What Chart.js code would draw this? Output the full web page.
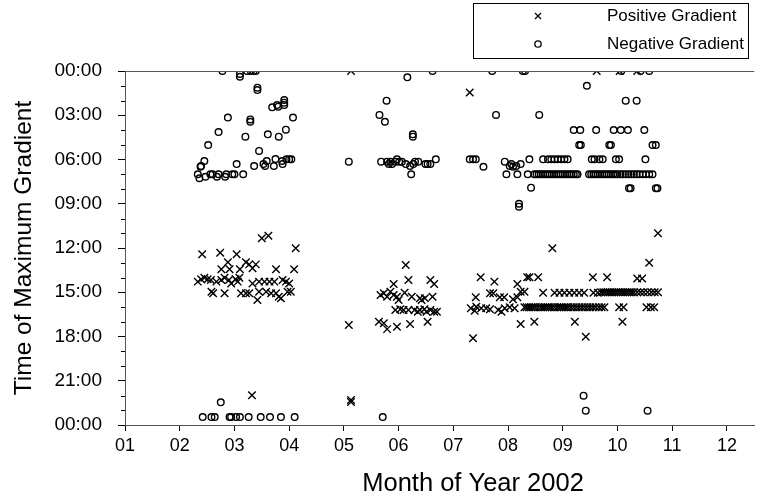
<!DOCTYPE html>
<html>
<head>
<meta charset="utf-8">
<script src="https://cdn.jsdelivr.net/npm/chart.js@4/dist/chart.umd.min.js"></script>
<style>
    html, body { margin: 0; padding: 0; background: #fff; }
    #wrap { width: 761px; height: 497px; }
</style>
</head>
<body>
<div id="wrap"><canvas id="chart-gradient" width="761" height="497"></canvas></div>
<script>
// label sumbu
const monthLabels = ["01", "02", "03", "04", "05", "06", "07", "08", "09", "10", "11", "12"];
const hourLabels = ["00:00", "03:00", "06:00", "09:00", "12:00", "15:00", "18:00", "21:00", "00:00"];

// [bulan, jam] - gradien positif (x)
const positivePoints = [
    [2.41, 12.43], [2.74, 12.32], [3.04, 12.43], [3.50, 11.34], [3.62, 11.17], [4.12, 12.02],
    [2.88, 12.97], [3.21, 12.97], [3.27, 13.11], [3.39, 13.11], [3.76, 13.44], [4.09, 13.44],
    [2.76, 13.44], [2.91, 13.44], [3.10, 13.44], [3.33, 13.38],
    [2.33, 14.28], [2.39, 14.12], [2.45, 14.01], [2.51, 14.12], [2.57, 14.17], [2.67, 14.28],
    [2.76, 14.17], [2.82, 14.01], [2.90, 14.17], [2.94, 14.40], [3.02, 14.12], [3.09, 14.01], [3.06, 14.28],
    [3.33, 14.40], [3.45, 14.28], [3.55, 14.28], [3.64, 14.28], [3.73, 14.28], [3.88, 14.17], [3.94, 14.28], [4.00, 14.40],
    [2.58, 14.96], [2.61, 15.07], [2.82, 15.07],
    [3.12, 15.07], [3.21, 15.07], [3.27, 15.07], [3.45, 14.96], [3.42, 15.53], [3.58, 14.96], [3.67, 15.07],
    [3.76, 15.07], [3.81, 15.30], [3.85, 15.41], [3.97, 14.96], [4.03, 14.96],
    [3.32, 21.99],
    [5.13, 0], [5.09, 17.22], [5.13, 22.31], [5.13, 22.44],
    [6.13, 13.15], [6.18, 14.17], [5.91, 14.44], [6.58, 14.17], [6.65, 14.44],
    [5.67, 15.19], [5.73, 15.07], [5.79, 15.30], [5.85, 14.96], [5.91, 15.19], [5.97, 15.30], [6.00, 15.53],
    [6.11, 15.03], [6.24, 15.30], [6.39, 15.41], [6.42, 15.53], [6.48, 15.41], [6.62, 15.30],
    [5.94, 16.20], [6.03, 16.16], [6.09, 16.20], [6.18, 16.20], [6.29, 16.20], [6.35, 16.32], [6.39, 16.20],
    [6.47, 16.16], [6.51, 16.32], [6.58, 16.20], [6.65, 16.32], [6.70, 16.32],
    [5.64, 17.00], [5.73, 17.10], [5.79, 17.50], [5.97, 17.34], [6.21, 17.15], [6.53, 17.00],
    [7.30, 1.45], [9.62, 0], [10.04, 0], [10.36, 0],
    [8.81, 12.02], [7.50, 13.99], [7.75, 14.28], [8.35, 13.99], [8.39, 13.99], [8.55, 13.99], [9.55, 13.99],
    [9.81, 13.99], [8.17, 14.44],
    [7.41, 15.34], [7.67, 15.07], [7.73, 15.07], [7.85, 15.34], [7.93, 15.34], [8.09, 15.48], [8.17, 15.34],
    [8.23, 14.96], [8.30, 14.96],
    [8.64, 15.03], [8.85, 15.03], [8.94, 15.03], [9.03, 15.03], [9.12, 15.03], [9.21, 15.03], [9.30, 15.03],
    [9.39, 15.03], [9.56, 15.03], [9.64, 15.03],
    [9.70, 15.0], [9.74, 15.0], [9.78, 15.0], [9.82, 15.0], [9.86, 15.0], [9.90, 15.0], [9.94, 15.0],
    [9.98, 15.0], [10.02, 15.0], [10.06, 15.0], [10.10, 15.0], [10.14, 15.0], [10.18, 15.0], [10.22, 15.0],
    [10.26, 15.0], [10.30, 15.0], [10.36, 15.0], [10.42, 15.0], [10.48, 15.0], [10.55, 15.0], [10.62, 15.0],
    [10.68, 15.0], [10.74, 15.0],
    [7.32, 16.09], [7.39, 16.25], [7.42, 15.98], [7.51, 16.09], [7.60, 16.09], [7.67, 16.16], [7.82, 16.20],
    [7.88, 16.32], [7.94, 16.09], [8.03, 16.02], [8.12, 16.09],
    [8.30, 16.02], [8.34, 16.02], [8.38, 16.02], [8.42, 16.02], [8.46, 16.02], [8.50, 16.02], [8.55, 16.02],
    [8.60, 16.02], [8.64, 16.02], [8.68, 16.02], [8.72, 16.02], [8.76, 16.02], [8.80, 16.02], [8.85, 16.02],
    [8.90, 16.02], [8.94, 16.02], [8.98, 16.02], [9.02, 16.02], [9.06, 16.02], [9.10, 16.02], [9.15, 16.02],
    [9.20, 16.02], [9.25, 16.02], [9.30, 16.02], [9.35, 16.02], [9.40, 16.02], [9.45, 16.02], [9.50, 16.02],
    [9.55, 16.02], [9.60, 16.02], [9.66, 16.02], [9.71, 16.02], [9.76, 16.02],
    [10.03, 16.02], [10.11, 16.02], [10.53, 16.02], [10.61, 16.02], [10.67, 16.02],
    [8.23, 17.15], [8.48, 17.00], [9.22, 17.00], [10.09, 17.00], [7.36, 18.12], [9.42, 18.01],
    [10.74, 11.00], [10.58, 13.00], [10.36, 14.06], [10.45, 14.06]
];

// [bulan, jam] - gradien negatif (o)
const negativePoints = [
    [2.78, 0], [3.10, 0.20], [3.10, 0.39], [3.23, 0], [3.30, 0], [3.35, 0], [3.39, 0],
    [3.42, 1.13], [3.42, 1.29],
    [3.69, 2.46], [3.78, 2.31], [3.80, 2.42], [3.91, 1.97], [3.91, 2.15], [3.91, 2.31],
    [2.88, 3.16], [3.29, 3.28], [3.29, 3.44], [4.07, 3.16],
    [2.71, 4.14], [3.20, 4.45], [3.61, 4.29], [3.81, 4.45], [3.94, 3.98],
    [2.52, 5.02], [3.45, 5.42],
    [2.45, 6.10], [2.39, 6.44], [2.38, 6.49], [3.04, 6.31], [3.36, 6.44],
    [3.53, 6.31], [3.56, 6.44], [3.59, 6.10], [3.75, 5.97], [3.72, 6.44], [3.88, 6.31], [3.87, 6.10],
    [3.95, 5.99], [4.00, 5.99], [4.04, 5.99],
    [2.33, 7.00], [2.36, 7.27], [2.47, 7.17], [2.56, 7.00], [2.60, 7.00], [2.68, 7.17], [2.71, 7.00],
    [2.83, 7.17], [2.85, 7.00], [2.96, 7.00], [3.00, 7.00], [3.16, 7.00],
    [2.42, 23.46], [2.58, 23.46], [2.64, 23.46], [2.91, 23.46], [2.94, 23.46], [3.03, 23.46], [3.10, 23.46],
    [3.26, 23.46], [3.48, 23.46], [3.65, 23.46], [3.85, 23.46], [4.10, 23.46], [2.75, 22.46],
    [5.09, 6.15], [6.62, 0], [6.16, 0.43], [5.78, 2.01], [5.65, 2.98], [5.75, 3.44], [6.26, 4.29], [6.26, 4.45],
    [5.68, 6.15], [5.79, 6.15], [5.82, 6.31], [5.85, 6.15], [5.88, 6.31], [5.94, 6.15], [5.97, 5.99],
    [6.01, 6.15], [6.06, 6.15], [6.13, 6.31], [6.21, 6.44], [6.27, 6.31], [6.30, 6.15], [6.36, 6.15],
    [6.49, 6.31], [6.53, 6.31], [6.58, 6.31], [6.68, 5.99], [6.23, 7.00],
    [5.71, 23.46],
    [7.71, 0], [8.27, 0], [8.31, 0], [10.07, 0], [10.42, 0], [10.58, 0],
    [9.44, 1.00], [7.78, 2.98], [8.57, 2.98], [10.15, 2.01], [10.35, 2.01],
    [9.20, 4.00], [9.32, 4.00], [9.61, 4.00], [9.93, 4.00], [10.06, 4.00], [10.19, 4.00], [10.49, 4.00],
    [9.30, 5.02], [9.33, 5.02], [9.85, 5.02], [9.88, 5.02], [10.64, 5.02], [10.70, 5.02],
    [7.30, 5.99], [7.36, 5.99], [7.41, 5.99], [7.55, 6.49], [7.94, 6.15], [8.03, 6.44], [8.06, 6.31],
    [8.09, 6.49], [8.15, 6.44], [8.23, 6.31], [8.39, 5.99], [8.64, 5.99], [8.73, 5.99], [8.79, 5.99],
    [8.85, 5.99], [8.91, 5.99], [8.97, 5.99], [9.03, 5.99], [9.09, 5.99], [9.53, 5.99], [9.58, 5.99],
    [9.67, 5.99], [9.73, 5.99], [9.97, 5.99], [10.03, 5.99], [10.51, 5.99],
    [7.97, 7.00], [8.17, 7.00], [8.36, 7.00],
    [8.48, 7.00], [8.52, 7.00], [8.56, 7.00], [8.60, 7.00], [8.64, 7.00], [8.68, 7.00], [8.72, 7.00],
    [8.76, 7.00], [8.80, 7.00], [8.84, 7.00], [8.88, 7.00], [8.92, 7.00], [8.96, 7.00], [9.00, 7.00],
    [9.04, 7.00], [9.08, 7.00], [9.12, 7.00], [9.16, 7.00], [9.20, 7.00], [9.24, 7.00], [9.27, 7.00],
    [9.48, 7.00], [9.52, 7.00], [9.56, 7.00], [9.60, 7.00], [9.64, 7.00], [9.68, 7.00], [9.72, 7.00],
    [9.76, 7.00], [9.80, 7.00], [9.84, 7.00], [9.88, 7.00], [9.92, 7.00], [9.96, 7.00], [10.00, 7.00],
    [10.05, 7.00], [10.10, 7.00], [10.15, 7.00], [10.20, 7.00], [10.25, 7.00], [10.30, 7.00], [10.35, 7.00],
    [10.40, 7.00], [10.46, 7.00], [10.52, 7.00], [10.58, 7.00], [10.64, 7.00],
    [8.42, 7.91], [8.20, 9.00], [8.20, 9.20],
    [10.21, 7.95], [10.24, 7.95], [10.70, 7.95], [10.73, 7.95],
    [9.38, 22.01], [9.42, 23.03], [10.55, 23.03]
];

const FONT = "'Liberation Sans', Arial, sans-serif";
const toXY = (arr) => arr.map((p) => ({ x: p[0], y: p[1] }));

// garis 00:00 di atas, tick kecil tiap jam, judul sumbu x dan legend berkotak
const extrasPlugin = {
    id: "extras",
    afterDraw(chart) {
        const { ctx, chartArea, scales } = chart;
        const y = scales.y;
        const x = scales.x;
        ctx.save();
        ctx.strokeStyle = "#555";
        ctx.lineWidth = 1;

        // garis atas (00:00)
        const top = Math.round(y.getPixelForValue(0)) + 0.5;
        ctx.beginPath();
        ctx.moveTo(chartArea.left, top);
        ctx.lineTo(chartArea.right, top);
        ctx.stroke();

        // minor ticks
        ctx.strokeStyle = "#000";
        for (let h = 0; h <= 24; h++) {
            if (h % 3 === 0) continue;
            const py = Math.round(y.getPixelForValue(h)) + 0.5;
            ctx.beginPath();
            ctx.moveTo(chartArea.left - 4, py);
            ctx.lineTo(chartArea.left, py);
            ctx.stroke();
        }

        // judul sumbu x (agak ke kanan seperti aslinya)
        ctx.fillStyle = "#000";
        ctx.font = "25.5px " + FONT;
        ctx.textAlign = "center";
        ctx.textBaseline = "middle";
        ctx.fillText("Month of Year 2002", x.getPixelForValue(7.36), 484);

        // legend
        ctx.strokeStyle = "#000";
        ctx.lineWidth = 1;
        ctx.strokeRect(473.5, 3.5, 275, 55);
        ctx.lineWidth = 1.3;
        ctx.beginPath();
        ctx.moveTo(535, 13); ctx.lineTo(541, 19);
        ctx.moveTo(541, 13); ctx.lineTo(535, 19);
        ctx.stroke();
        ctx.beginPath();
        ctx.arc(538, 44, 3.2, 0, Math.PI * 2);
        ctx.stroke();

        ctx.font = "17px " + FONT;
        ctx.textAlign = "left";
        ctx.fillText("Positive Gradient", 607, 16);
        ctx.fillText("Negative Gradient", 607, 44);
        ctx.restore();
    },
};

const config = {
    type: "scatter",
    data: {
        datasets: [
            {
                label: "Positive Gradient",
                data: toXY(positivePoints),
                pointStyle: "crossRot",
                radius: 5.3,
                borderWidth: 1.4,
                borderColor: "#000",
                backgroundColor: "#000",
            },
            {
                label: "Negative Gradient",
                data: toXY(negativePoints),
                pointStyle: "circle",
                radius: 3.3,
                borderWidth: 1.4,
                borderColor: "#000",
                backgroundColor: "rgba(0,0,0,0)",
            },
        ],
    },
    options: {
        responsive: false,
        animation: false,
        layout: { padding: { top: 71, right: 3, left: 0, bottom: 0 } },
        plugins: {
            legend: { display: false },
            tooltip: { enabled: false },
        },
        scales: {
            x: {
                type: "linear",
                min: 1,
                max: 12.5,
                afterBuildTicks: (scale) => {
                    scale.ticks = monthLabels.map((m, i) => ({ value: i + 1 }));
                },
                afterFit: (scale) => { scale.height = 72; },
                ticks: {
                    autoSkip: false,
                    maxRotation: 0,
                    padding: 4,
                    color: "#000",
                    font: { family: FONT, size: 18 },
                    callback: (v) => monthLabels[v - 1],
                },
                grid: { display: true, drawOnChartArea: false, tickLength: 6, tickColor: "#000" },
                border: { display: true, color: "#555" },
                title: { display: false },
            },
            y: {
                type: "linear",
                reverse: true,
                min: 0,
                max: 24,
                afterFit: (scale) => { scale.width = 125; },
                ticks: {
                    stepSize: 3,
                    autoSkip: false,
                    padding: 16,
                    color: "#000",
                    font: { family: FONT, size: 19 },
                    callback: (v) => hourLabels[v / 3],
                },
                grid: { display: true, drawOnChartArea: false, tickLength: 7, tickColor: "#000" },
                border: { display: true, color: "#555" },
                title: {
                    display: true,
                    text: "Time of Maximum Gradient",
                    color: "#000",
                    font: { family: FONT, size: 24.5 },
                    padding: { top: 10, bottom: 0 },
                },
            },
        },
    },
    plugins: [extrasPlugin],
};

document.addEventListener("DOMContentLoaded", () => {
    const canvas = document.getElementById("chart-gradient");
    canvas.chart = new Chart(canvas, config);
});
</script>
</body>
</html>
